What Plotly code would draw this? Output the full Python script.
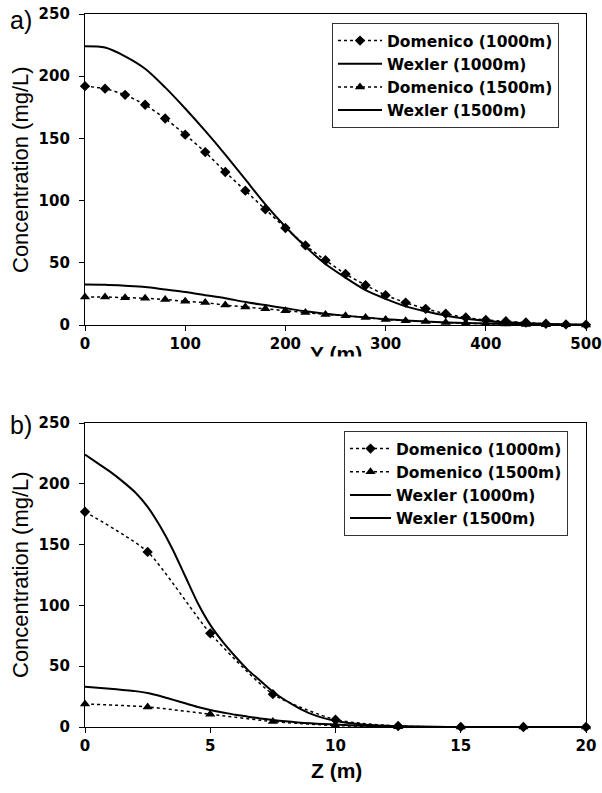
import plotly.graph_objects as go

# ---------------- data: panel a (transverse Y) ----------------
y_dom = [0, 20, 40, 60, 80, 100, 120, 140, 160, 180, 200, 220, 240, 260, 280, 300,
         320, 340, 360, 380, 400, 420, 440, 460, 480, 500]
a_dom_1000 = [192, 190, 185, 177, 166, 153, 139, 123, 108, 93, 78, 64, 52, 41, 32, 24,
              18, 13, 9, 6, 4, 3, 2, 1, 0.5, 0.3]
a_dom_1500 = [22.5, 22.5, 22, 21.5, 20.5, 19, 18, 16, 14.5, 13, 11.5, 10, 8.5, 7.5, 6, 4.5,
              3.5, 2.8, 2, 1.5, 1, 0.8, 0.5, 0.3, 0.2, 0.1]
a_wex_1000 = [224, 223, 216, 206, 191, 174, 156, 137, 117, 97, 79, 63, 49, 38, 28, 21,
              15, 11, 7.5, 5, 3.3, 2.2, 1.4, 0.9, 0.5, 0.3]
a_wex_1500 = [32.5, 32.3, 31.5, 30.5, 28.5, 26.5, 24, 21.5, 18.5, 16, 13.5, 11, 9, 7.5, 6, 4.7,
              3.7, 2.8, 2.1, 1.6, 1.2, 0.9, 0.6, 0.4, 0.3, 0.2]

# ---------------- data: panel b (vertical Z) ----------------
z_dom = [0, 2.5, 5, 7.5, 10, 12.5, 15, 17.5, 20]
b_dom_1000 = [177, 144, 77, 27, 6, 0.8, 0.1, 0, 0]
b_dom_1500 = [19, 16.5, 10.5, 4.5, 1.2, 0.2, 0, 0, 0]
z_wex = [0, 0.5, 1, 1.5, 2, 2.5, 3, 3.5, 4, 4.5, 5, 5.5, 6, 6.5, 7, 7.5, 8, 8.5, 9, 9.5,
         10, 11, 12, 13, 14, 15, 16, 17, 18, 19, 20]
b_wex_1000 = [224, 217, 210, 202, 193, 181, 165, 146, 124, 102, 84, 70, 58, 47, 38, 29, 22, 16,
              11, 7.5, 5, 2.3, 1, 0.4, 0.15, 0.05, 0, 0, 0, 0, 0]
b_wex_1500 = [33, 32.3, 31.5, 30.5, 29.5, 28, 25.5, 22.5, 19.5, 16.5, 14, 12, 10, 8.5, 7, 5.8,
              4.7, 3.8, 3, 2.4, 2, 1.1, 0.5, 0.2, 0.1, 0.05, 0, 0, 0, 0, 0]

a_xticks = [0, 100, 200, 300, 400, 500]
b_xticks = [0, 5, 10, 15, 20]
yticks = [0, 50, 100, 150, 200, 250]

W, H = 602, 793
FONT = "Liberation Sans, Arial, sans-serif"
BFONT = "DejaVu Sans, Liberation Sans, sans-serif"

def px(x):
    return x / W

def py(y):
    return 1 - y / H

def bold(vals):
    return ["<b>%s</b>" % v for v in vals]

fig = go.Figure()

dom_line = dict(color="black", width=1.5, dash="dot")
wex_line = dict(color="black", width=2)

# panel a
fig.add_trace(go.Scatter(x=y_dom, y=a_dom_1000, mode="lines+markers", name="Domenico (1000m)",
                         line=dict(**dom_line, shape="spline", smoothing=0.6),
                         marker=dict(symbol="diamond", size=8, color="black"),
                         xaxis="x", yaxis="y", legend="legend", cliponaxis=False))
fig.add_trace(go.Scatter(x=y_dom, y=a_wex_1000, mode="lines", name="Wexler (1000m)",
                         line=dict(**wex_line, shape="spline", smoothing=0.8),
                         xaxis="x", yaxis="y", legend="legend"))
fig.add_trace(go.Scatter(x=y_dom, y=a_dom_1500, mode="lines+markers", name="Domenico (1500m)",
                         line=dict(**dom_line, shape="spline", smoothing=0.6),
                         marker=dict(symbol="triangle-up", size=9, color="black"),
                         xaxis="x", yaxis="y", legend="legend", cliponaxis=False))
fig.add_trace(go.Scatter(x=y_dom, y=a_wex_1500, mode="lines", name="Wexler (1500m)",
                         line=dict(**wex_line, shape="spline", smoothing=0.8),
                         xaxis="x", yaxis="y", legend="legend"))

# panel b
fig.add_trace(go.Scatter(x=z_dom, y=b_dom_1000, mode="lines+markers", name="Domenico (1000m)",
                         line=dict(**dom_line, shape="spline", smoothing=0.6),
                         marker=dict(symbol="diamond", size=8, color="black"),
                         xaxis="x2", yaxis="y2", legend="legend2", cliponaxis=False))
fig.add_trace(go.Scatter(x=z_dom, y=b_dom_1500, mode="lines+markers", name="Domenico (1500m)",
                         line=dict(**dom_line, shape="spline", smoothing=0.6),
                         marker=dict(symbol="triangle-up", size=9, color="black"),
                         xaxis="x2", yaxis="y2", legend="legend2", cliponaxis=False))
fig.add_trace(go.Scatter(x=z_wex, y=b_wex_1000, mode="lines", name="Wexler (1000m)",
                         line=dict(**wex_line, shape="spline", smoothing=0.8),
                         xaxis="x2", yaxis="y2", legend="legend2"))
fig.add_trace(go.Scatter(x=z_wex, y=b_wex_1500, mode="lines", name="Wexler (1500m)",
                         line=dict(**wex_line, shape="spline", smoothing=0.8),
                         xaxis="x2", yaxis="y2", legend="legend2"))

axis_common = dict(showline=True, linecolor="black", linewidth=1.3, mirror=True,
                   ticks="outside", ticklen=5, tickcolor="black", tickwidth=1.3,
                   showgrid=False, zeroline=False, automargin=False,
                   tickfont=dict(family=BFONT, size=15, color="black"))

xdom = [px(85), px(586)]
legend_font = dict(family=BFONT, size=15.5, color="black", weight="bold")
fig.update_layout(
    width=W, height=H, autosize=False,
    margin=dict(l=0, r=0, t=0, b=0),
    paper_bgcolor="white", plot_bgcolor="white",
    font=dict(family=FONT, color="black"),
    xaxis=dict(domain=xdom, anchor="y", range=[0, 500], tickvals=a_xticks,
               ticktext=bold(a_xticks), **axis_common),
    yaxis=dict(domain=[py(325), py(14)], anchor="x", range=[0, 250], tickvals=yticks,
               ticktext=bold(yticks), ticklabelstandoff=6, **axis_common),
    xaxis2=dict(domain=xdom, anchor="y2", range=[0, 20], tickvals=b_xticks,
                ticktext=bold(b_xticks), **axis_common),
    yaxis2=dict(domain=[py(727), py(423)], anchor="x2", range=[0, 250], tickvals=yticks,
                ticktext=bold(yticks), ticklabelstandoff=6, **axis_common),
    showlegend=True,
    legend=dict(x=px(332), y=py(23), xanchor="left", yanchor="top",
                bgcolor="white", bordercolor="#333333", borderwidth=1,
                font=legend_font, itemwidth=44, tracegroupgap=0),
    legend2=dict(x=px(344), y=py(431), xanchor="left", yanchor="top",
                 bgcolor="white", bordercolor="#333333", borderwidth=1,
                 font=legend_font, itemwidth=41, tracegroupgap=0),
)

ann = [
    dict(text="a)", x=px(8), y=py(20), xanchor="left", yanchor="middle",
         font=dict(size=25, family=FONT, color="black")),
    dict(text="b)", x=px(8), y=py(425), xanchor="left", yanchor="middle",
         font=dict(size=25, family=FONT, color="black")),
    dict(text="Concentration (mg/L)", x=px(20), y=py(170), textangle=-90,
         xanchor="center", yanchor="middle",
         font=dict(size=22, family=FONT, color="black")),
    dict(text="Concentration (mg/L)", x=px(20), y=py(575), textangle=-90,
         xanchor="center", yanchor="middle",
         font=dict(size=22, family=FONT, color="black")),
    dict(text="<b>Z (m)</b>", x=px(336), y=py(770), xanchor="center", yanchor="middle",
         font=dict(size=21, family=FONT, color="black")),
    dict(text="<b>Y (m)</b>", x=px(336), y=py(353), xanchor="center", yanchor="middle",
         font=dict(size=21, family=FONT, color="black")),
    # white strip clipping the lower part of the panel-a axis title, as in the original
    dict(text=" ", x=px(336), y=py(356), xanchor="center", yanchor="top",
         width=90, height=24, bgcolor="white", font=dict(size=10)),
]
for a in ann:
    a["showarrow"] = False
    a["xref"] = "paper"
    a["yref"] = "paper"
fig.update_layout(annotations=ann)

fig.write_html("out.html",
               config={"displayModeBar": False},
               post_script="document.body.style.margin='0';document.body.style.overflow='hidden';")
